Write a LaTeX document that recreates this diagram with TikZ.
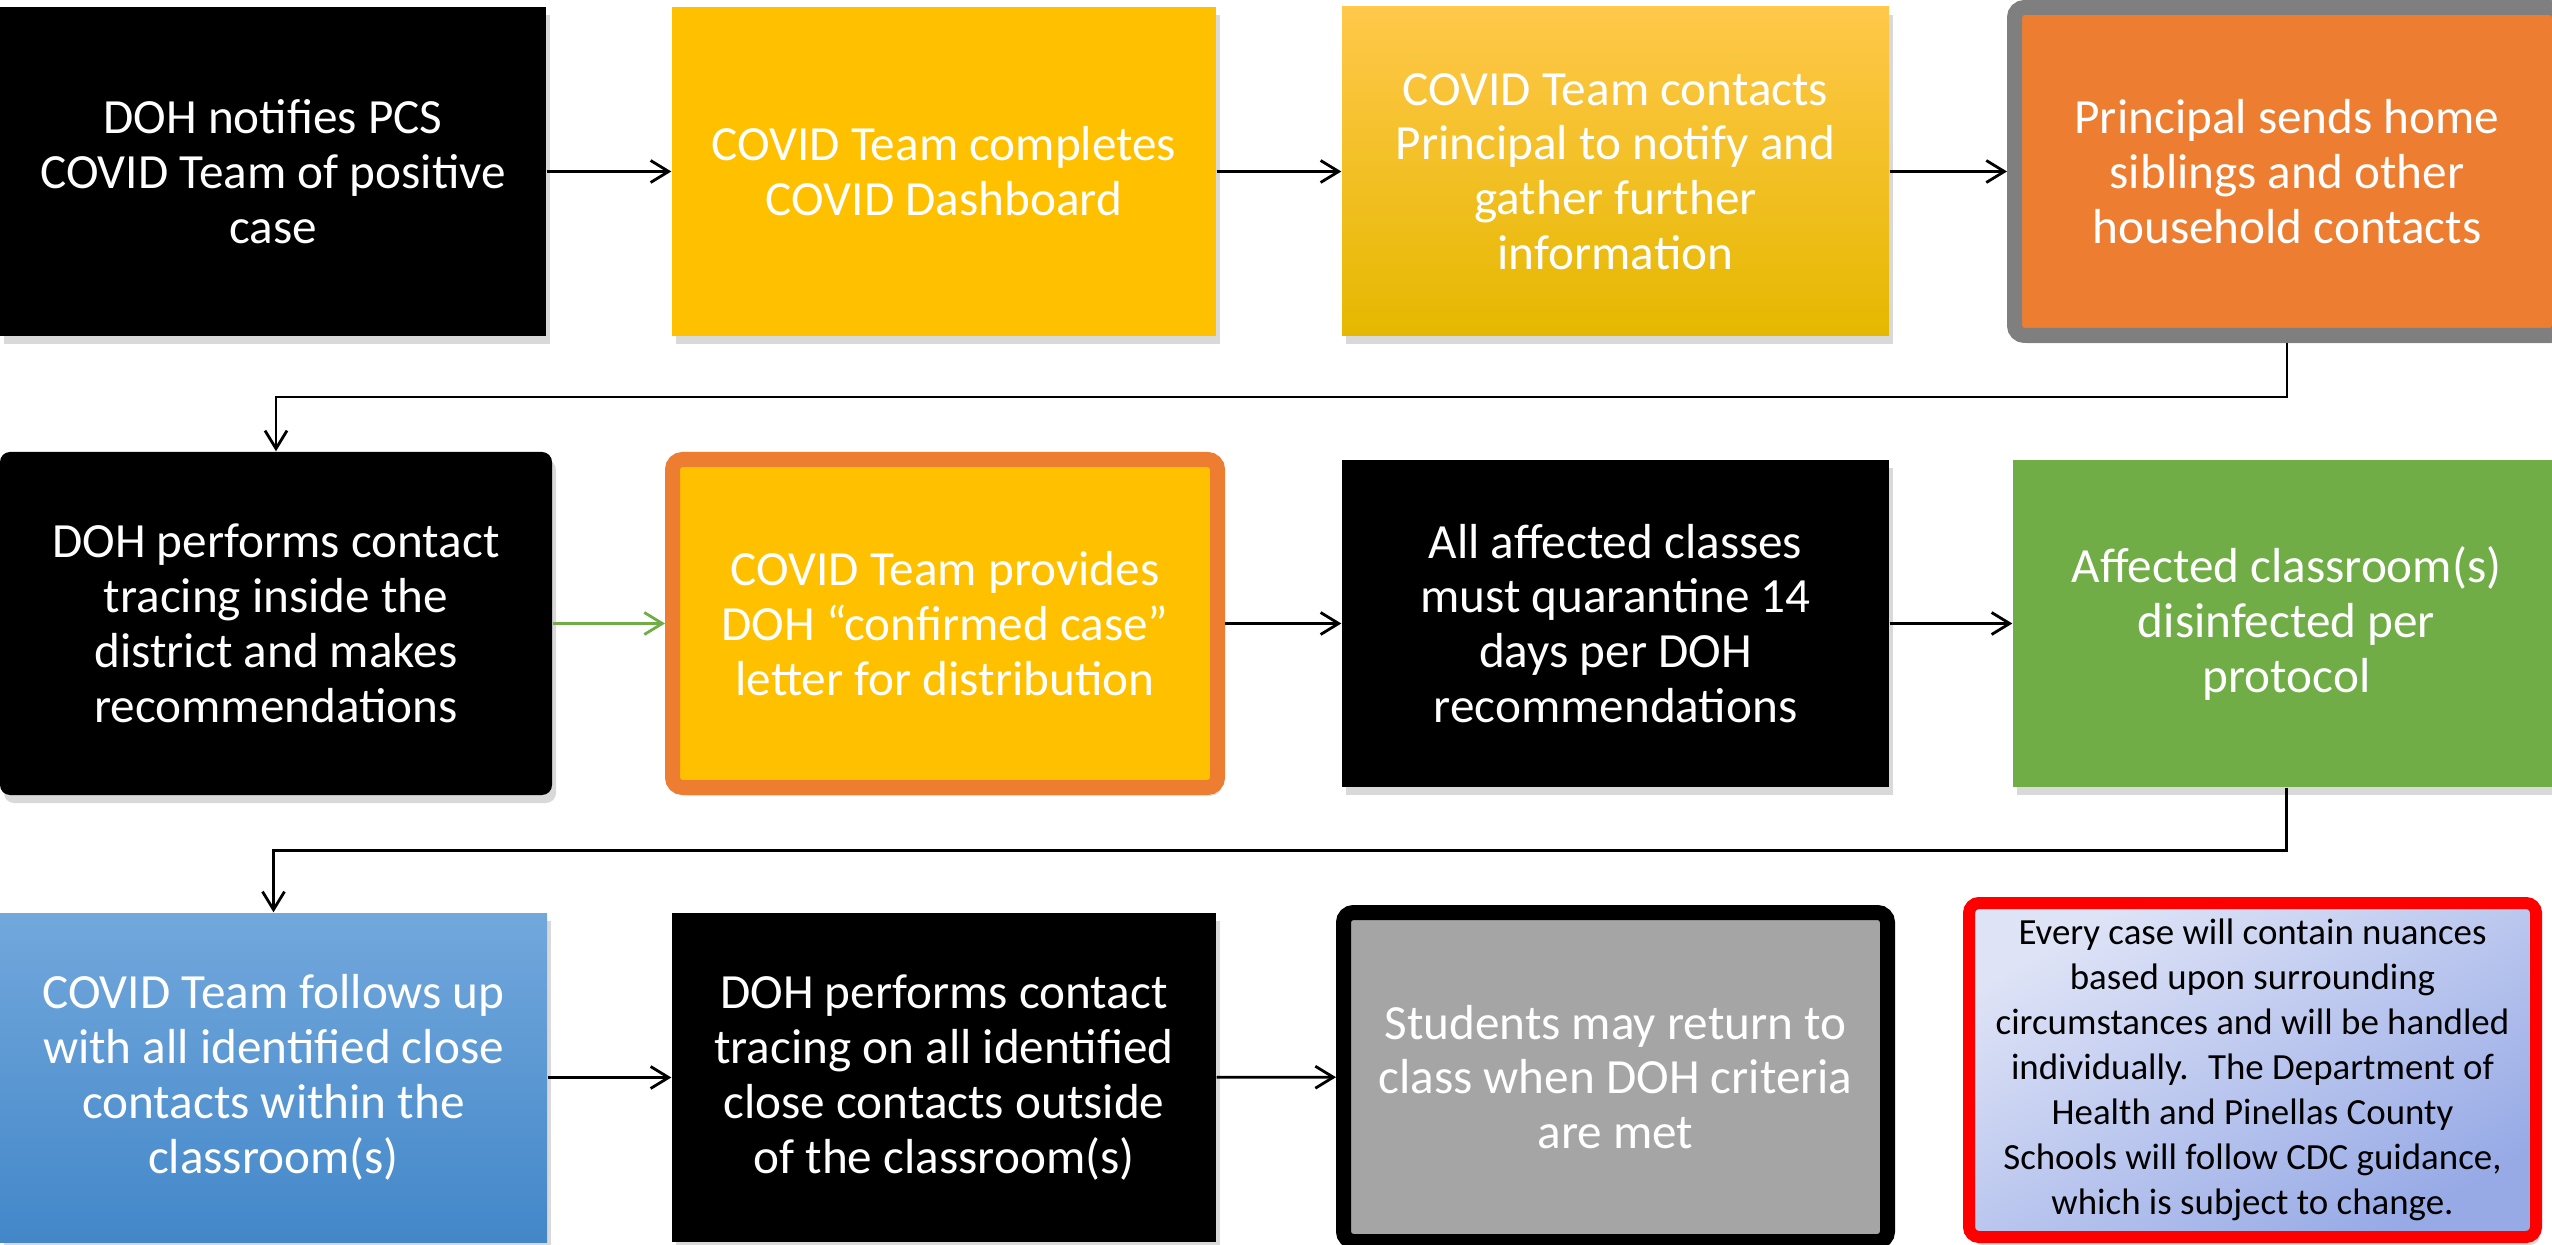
\documentclass[tikz,border=0pt]{standalone}
\usepackage{fontspec}
\setmainfont{Carlito}
\usetikzlibrary{arrows.meta,shadows}
\definecolor{covYellow}{HTML}{FFC000}
\definecolor{covYellowTop}{HTML}{FFC84A}
\definecolor{covYellowBot}{HTML}{E5B800}
\definecolor{covOrange}{HTML}{ED7D31}
\definecolor{covGrey}{HTML}{7F7F7F}
\definecolor{covGreen}{HTML}{70AD47}
\definecolor{covStone}{HTML}{A5A5A5}
\definecolor{covBlueTop}{HTML}{72A8DC}
\definecolor{covBlueBot}{HTML}{4387C9}
\definecolor{noteTop}{HTML}{DEE3F6}
\definecolor{noteBot}{HTML}{97AAE6}
\begin{document}
\begin{tikzpicture}[
  box/.style={text=white, align=center, inner sep=0pt,
    font=\fontsize{14}{15.6}\selectfont,
    drop shadow={shadow xshift=0.4mm, shadow yshift=-0.8mm, opacity=0.3}},
  flow/.style={-{Straight Barb[length=1.8mm,width=2.2mm]}, line width=0.8pt}
]
\useasboundingbox (0,0) rectangle (25.52,-12.45);
\node[box, fill=black, minimum width=5.46cm, minimum height=3.29cm] (notify) at (2.73,-1.715)
  {DOH notifies PCS\\COVID Team of positive\\case};
\node[box, fill=covYellow, minimum width=5.44cm, minimum height=3.29cm] (dash) at (9.44,-1.715)
  {COVID Team completes\\COVID Dashboard};
\node[box, top color=covYellowTop, middle color=covYellow, bottom color=covYellowBot,
  minimum width=5.47cm, minimum height=3.29cm] (contact) at (16.155,-1.715)
  {COVID Team contacts\\Principal to notify and\\gather further\\information};
\node[box, fill=covOrange, draw=covGrey, line width=0.15cm, rounded corners=1mm,
  minimum width=5.45cm, minimum height=3.28cm] (home) at (22.87,-1.715)
  {Principal sends home\\siblings and other\\household contacts};

\node[box, fill=black, rounded corners=1mm, minimum width=5.52cm, minimum height=3.43cm] (trace) at (2.76,-6.235)
  {DOH performs contact\\tracing inside the\\district and makes\\recommendations};
\node[box, fill=covYellow, draw=covOrange, line width=0.15cm, rounded corners=1mm,
  minimum width=5.45cm, minimum height=3.28cm] (letter) at (9.45,-6.235)
  {COVID Team provides\\DOH “confirmed case”\\letter for distribution};
\node[box, fill=black, minimum width=5.47cm, minimum height=3.27cm] (quar) at (16.155,-6.235)
  {All affected classes\\must quarantine 14\\days per DOH\\recommendations};
\node[box, fill=covGreen, minimum width=5.47cm, minimum height=3.27cm] (clean) at (22.865,-6.235)
  {Affected classroom(s)\\disinfected per\\protocol};

\node[box, top color=covBlueTop, bottom color=covBlueBot, minimum width=5.47cm, minimum height=3.29cm] (follow) at (2.735,-10.775)
  {COVID Team follows up\\with all identified close\\contacts within the\\classroom(s)};
\node[box, fill=black, minimum width=5.44cm, minimum height=3.29cm] (outside) at (9.44,-10.775)
  {DOH performs contact\\tracing on all identified\\close contacts outside\\of the classroom(s)};
\node[box, fill=covStone, draw=black, line width=0.15cm, rounded corners=1mm,
  minimum width=5.44cm, minimum height=3.29cm] (return) at (16.155,-10.77)
  {Students may return to\\class when DOH criteria\\are met};
\node[box, text=black, font=\fontsize{10.5}{12.8}\selectfont, top color=noteTop, bottom color=noteBot, shading angle=30,
  draw=red, line width=0.12cm, rounded corners=1mm,
  minimum width=5.67cm, minimum height=3.34cm] (note) at (22.525,-10.70)
  {Every case will contain nuances\\based upon surrounding\\circumstances and will be handled\\individually.~ The Department of\\Health and Pinellas County\\Schools will follow CDC guidance,\\which is subject to change.};

\draw[flow] (notify) -- (dash);
\draw[flow] (dash) -- (contact);
\draw[flow] (contact) -- (home);
\draw[flow] (home.south) -- ++(0,-0.54) -| (trace.north);
\draw[flow, covGreen] (trace) -- (letter);
\draw[flow] (letter) -- (quar);
\draw[flow] (quar) -- (clean);
\draw[flow] (clean.south) -- ++(0,-0.63) -| (follow.north);
\draw[flow] (follow) -- (outside);
\draw[flow] (outside) -- (return);
\end{tikzpicture}
\end{document}
